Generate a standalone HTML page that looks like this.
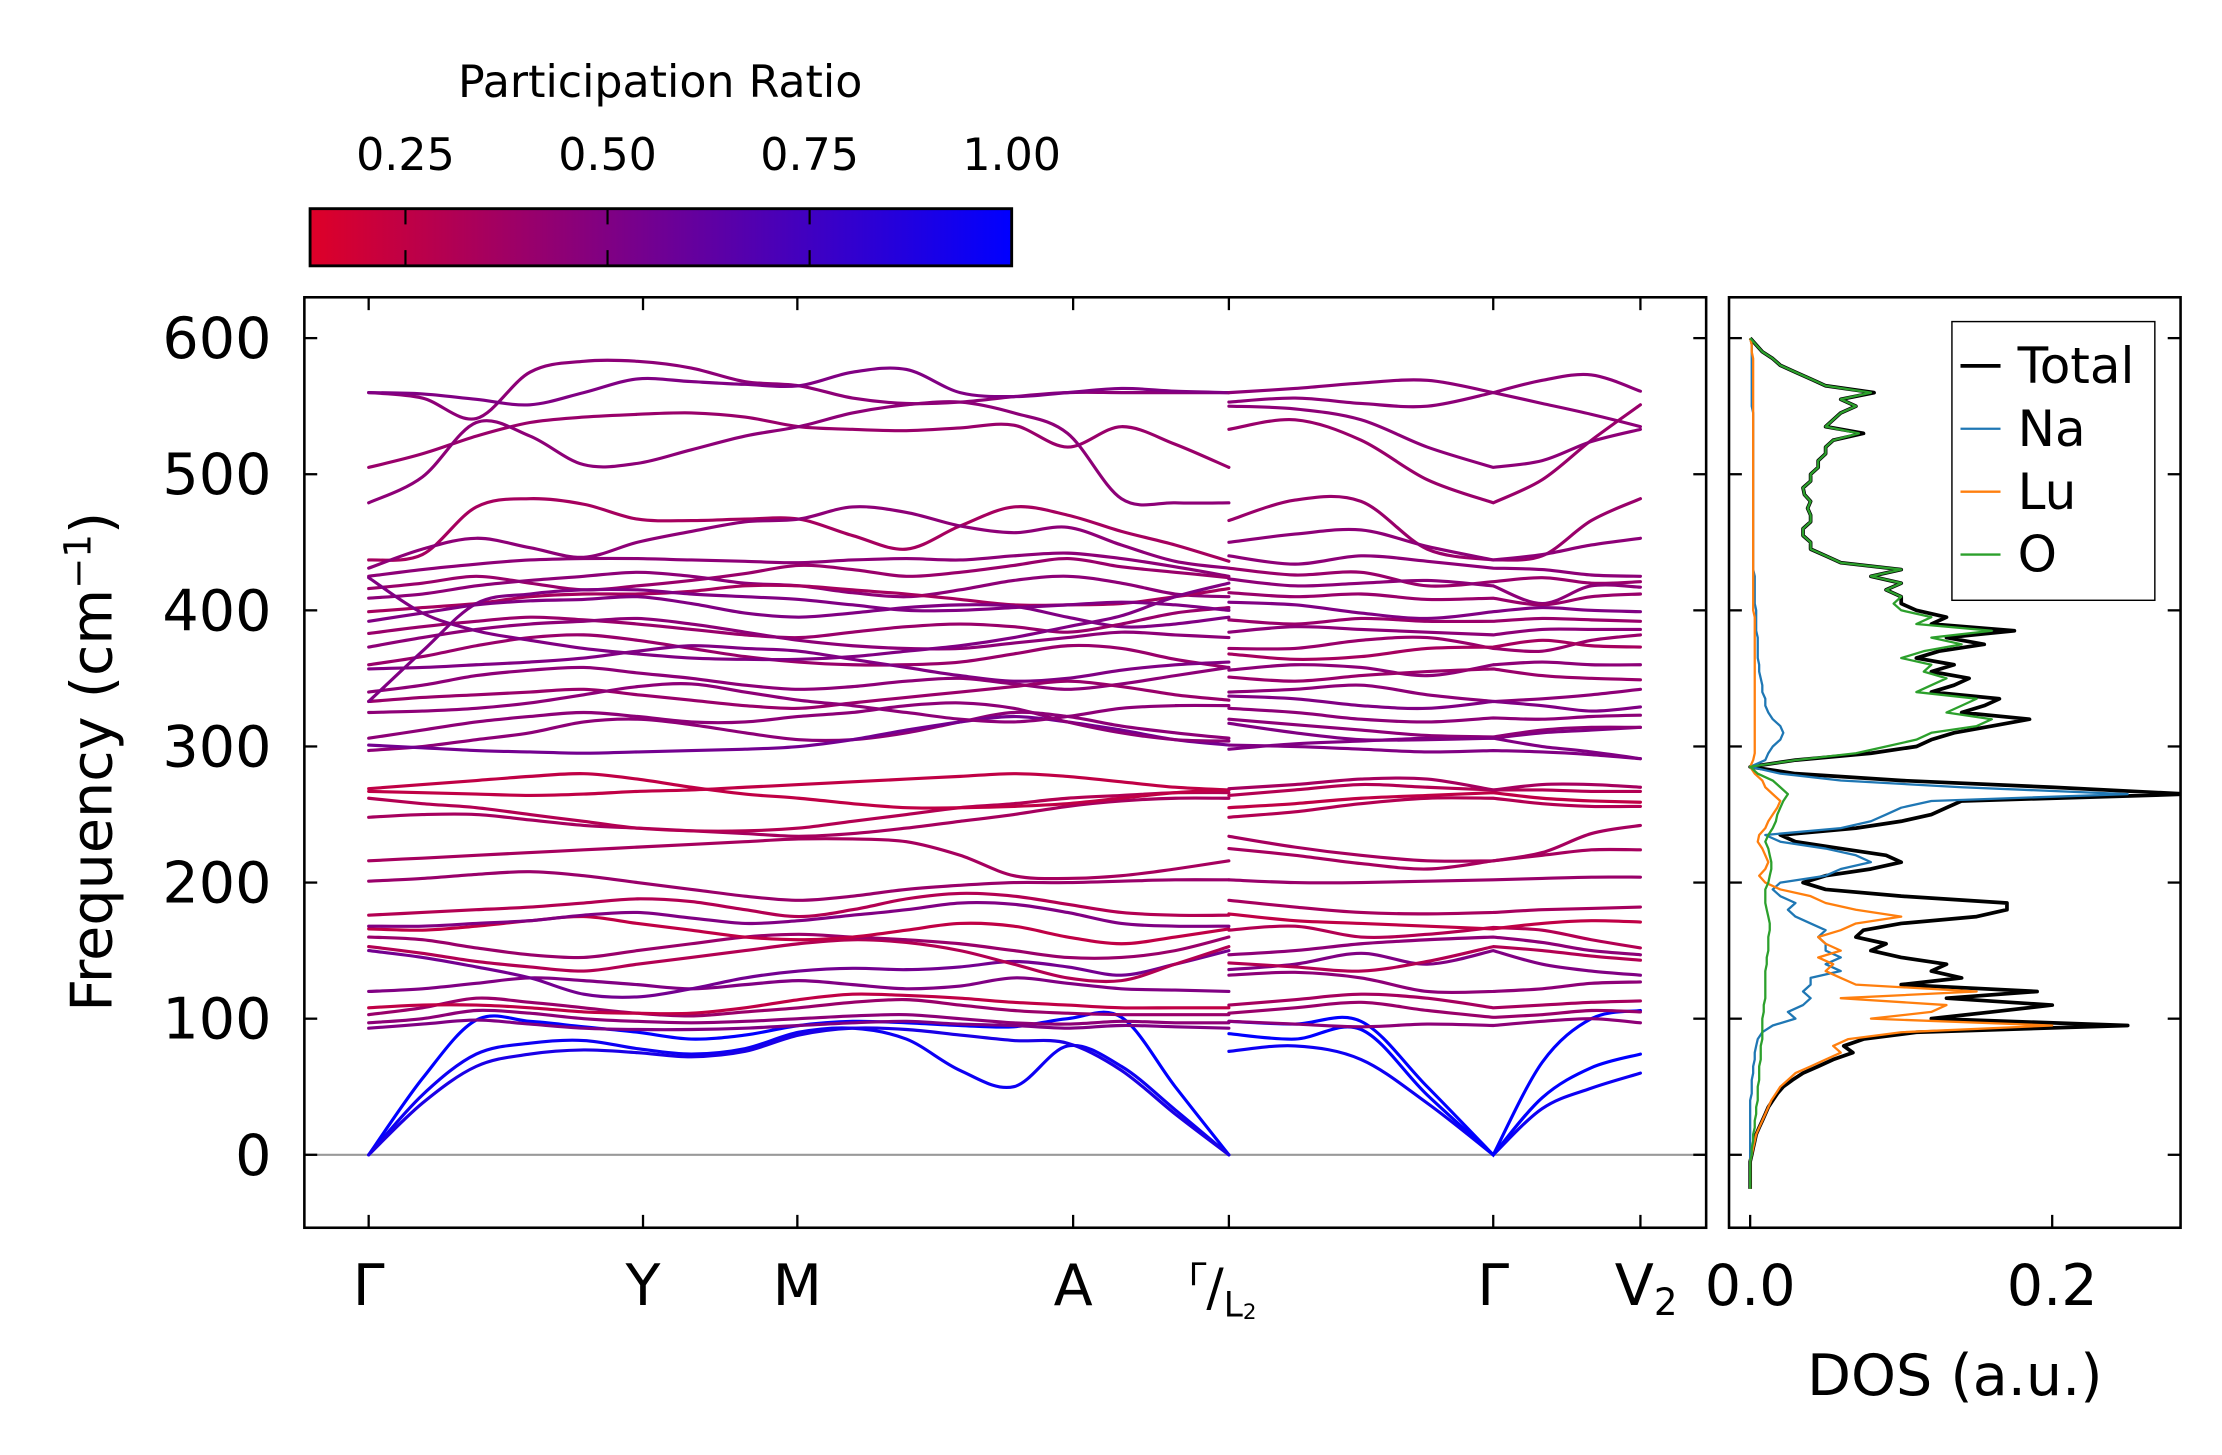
<!DOCTYPE html>
<html><head><meta charset="utf-8"><style>
html,body{margin:0;padding:0;background:#fff;}
svg{display:block;font-family:"DejaVu Sans","Liberation Sans",sans-serif;}
</style></head><body>
<svg id="chart" width="2222" height="1455" viewBox="0 0 1555 1018" preserveAspectRatio="none" xmlns="http://www.w3.org/2000/svg">
<defs>
<linearGradient id="cbgrad" x1="0" x2="1" y1="0" y2="0">
<stop offset="0" stop-color="rgb(222,0,40)"/><stop offset="1" stop-color="rgb(0,0,255)"/>
</linearGradient>
<clipPath id="mainclip"><rect x="213" y="208" width="981" height="651"/></clipPath>
<clipPath id="dosclip"><rect x="1210" y="208" width="316" height="651"/></clipPath>
</defs>
<g id="colorbar">
<text x="462" y="68" font-size="31" text-anchor="middle">Participation Ratio</text>
<rect x="217" y="146" width="491" height="40" fill="url(#cbgrad)" stroke="#000" stroke-width="2"/>
</g>
<g id="main">
<line x1="213" x2="1194" y1="808" y2="808" stroke="#999" stroke-width="1.5"/>
<g id="bands" clip-path="url(#mainclip)"></g>
<rect x="213" y="208" width="981" height="651" fill="none" stroke="#000" stroke-width="1.8"/>
<g id="mainticks"></g>
<text transform="translate(78,533) rotate(-90)" font-size="40" text-anchor="middle">Frequency (cm<tspan baseline-shift="super" font-size="26">−1</tspan>)</text>
</g>
<g id="dos">
<g id="dosCurves" clip-path="url(#dosclip)"></g>
<rect x="1210" y="208" width="316" height="651" fill="none" stroke="#000" stroke-width="1.8"/>
<g id="dosticks"></g>
<text x="1368" y="976" font-size="40" text-anchor="middle">DOS (a.u.)</text>
<g>
<rect x="1366" y="225" width="142" height="195" fill="#fff" stroke="#000" stroke-width="1"/>
<g id="legendEntries"></g>
</g>
</g>
</svg>
<script>
// ---------- data ----------
const cbTicks = [0.25, 0.50, 0.75, 1.00];
const cbTickLabels = ["0.25", "0.50", "0.75", "1.00"];
const cbRange = [0.132, 1.0];
const yTicks = [0, 100, 200, 300, 400, 500, 600];
const yLim = [-53.6, 630];
const kLim = [-45, 936];
const kHigh = [0, 192, 300, 493, 602, 787, 890];
const kLabels = ["Γ", "Y", "M", "A", "Γ/L2", "Γ", "V2"];
const kPath1 = [0,37.6,75.3,112.9,150.5,188.1,225.8,263.4,301,338.6,376.3,413.9,451.5,489.1,526.8,564.4,602];
const kPath2 = [602,648.25,694.5,740.75,787,821.3,855.7,890];
const bandsPath1 = [
[0,56,99,98,94,90,85,88,95,98,97,95,94,100,101,50,0],
[0,44,74,82,84,78,74,78,90,93,85,62,50,80,65,33,0],
[0,38,65,74,77,75,72,76,88,93,92,88,84,82,62,30,0],
[93,96,99,96,93,92,92,93,95,97,98,96,95,93,95,94,93],
[97,100,106,104,100,98,97,98,100,102,103,100,97,96,98,97,97],
[103,108,115,112,108,104,102,105,108,112,114,110,106,104,103,103,103],
[108,110,110,108,105,104,104,108,114,118,117,115,112,110,108,108,108],
[120,122,126,130,128,125,122,125,128,125,122,124,130,126,122,121,120],
[150,145,138,130,118,116,122,130,135,137,136,138,142,138,132,140,150],
[153,148,142,138,135,140,145,150,155,158,156,150,140,130,128,140,153],
[160,158,152,147,145,150,155,160,162,160,158,155,150,145,145,150,160],
[166,165,168,172,175,170,165,160,158,160,165,170,168,160,155,160,166],
[168,168,170,172,176,178,174,170,172,176,180,185,184,178,170,168,168],
[176,178,180,182,185,188,186,180,175,180,188,192,190,184,178,176,176],
[201,203,206,208,205,200,195,190,187,190,195,198,200,200,201,202,202],
[216,218,220,222,224,226,228,230,232,232,230,220,205,203,205,210,216],
[248,250,250,246,242,240,238,236,234,236,240,245,250,256,260,262,262],
[262,258,255,250,245,240,238,238,240,245,250,255,258,262,264,266,266],
[267,266,265,264,265,267,268,270,272,274,276,278,280,278,274,270,268],
[269,272,275,278,280,276,270,265,262,258,255,255,256,258,262,266,268],
[297,300,305,310,318,320,316,310,305,305,310,318,325,322,315,310,306],
[301,299,297,296,295,296,297,298,300,305,312,318,322,318,312,305,301],
[306,312,318,322,325,322,318,318,322,325,330,332,328,318,310,305,304],
[560,556,541,575,583,583,578,568,565,556,552,553,557,560,560,560,560],
[560,559,555,551,560,570,568,566,565,575,577,560,557,560,563,561,560],
[505,515,528,538,542,544,545,542,535,533,532,534,536,520,535,522,505],
[479,498,538,528,507,508,518,528,535,545,551,553,545,530,482,479,479],
[437,441,476,482,478,467,466,467,467,455,445,462,476,470,458,448,436],
[431,445,453,446,439,450,458,465,467,476,472,462,457,461,448,436,431],
[425,430,434,437,438,438,437,436,435,437,438,437,440,442,438,432,425],
[416,420,425,420,415,418,422,427,433,430,425,428,433,438,432,428,424],
[409,412,418,422,425,428,425,420,418,413,410,415,422,425,420,412,410],
[399,402,405,410,412,412,414,418,418,415,412,408,404,404,405,410,416],
[392,398,404,407,408,410,405,398,395,398,402,404,403,395,388,390,395],
[383,388,392,395,393,390,386,382,380,384,388,390,388,384,390,398,402],
[373,380,386,390,392,394,390,384,378,374,372,372,376,380,384,382,380],
[360,366,374,380,382,378,372,366,362,360,360,362,368,374,372,364,358],
[357,358,360,362,365,370,374,372,370,364,358,352,348,350,356,360,362],
[340,345,352,356,358,354,350,345,342,344,348,350,346,342,346,352,358],
[333,336,338,340,342,338,334,330,328,332,336,340,344,348,344,338,334],
[325,326,328,332,338,344,346,340,334,330,325,320,318,322,328,330,330],
[424,398,385,378,372,368,365,364,364,366,370,374,380,388,396,410,420],
[333,370,405,412,415,415,412,410,408,404,400,400,402,404,406,404,400]
];
const prPath1 = [1,.95,.9,.5,.45,.4,.25,.5,.55,.3,.4,.25,.5,.3,.4,.35,.35,.3,.25,.25,.45,.55,.45,
.45,.5,.4,.45,.35,.45,.45,.4,.45,.35,.5,.4,.45,.4,.5,.45,.4,.45,.5,.5];
const bandsPath2 = [
[76,80,70,38,0,34,49,60],
[89,85,92,44,0,42,64,74],
[98,96,98,50,0,68,100,106],
[98,96,94,96,95,98,100,97],
[104,108,112,106,101,103,106,105],
[110,114,118,115,108,110,112,113],
[132,134,130,120,120,122,126,127],
[136,140,148,140,150,140,135,132],
[141,138,135,142,153,150,146,143],
[147,150,155,158,160,156,150,147],
[165,168,160,162,167,165,158,152],
[177,172,170,168,166,170,172,171],
[187,182,178,177,178,180,181,182],
[202,200,200,201,202,203,204,204],
[225,220,214,210,216,220,224,224],
[234,226,220,216,216,222,236,242],
[248,252,258,262,262,258,256,256],
[255,258,262,264,266,262,260,259],
[264,268,272,270,268,268,267,267],
[269,272,276,276,268,272,272,270],
[301,300,298,296,297,296,294,291],
[298,302,304,306,306,310,312,314],
[560,563,567,569,560,569,573,561],
[553,556,552,550,560,552,544,535],
[533,540,525,496,479,496,525,551],
[550,548,540,520,505,510,524,533],
[466,481,480,445,437,440,466,482],
[450,456,459,447,437,441,448,453],
[440,434,440,436,431,430,426,425],
[431,426,428,418,421,424,420,421],
[423,418,420,422,418,405,418,417],
[413,410,412,408,409,404,410,412],
[406,404,398,394,399,402,400,399],
[393,390,394,392,392,394,393,392],
[384,388,386,384,382,386,386,386],
[372,372,378,380,372,370,378,382],
[368,364,366,372,373,378,374,373],
[356,360,358,352,360,362,360,360],
[351,348,352,355,357,352,350,349],
[340,342,345,338,333,335,338,342],
[337,335,330,328,333,330,326,329],
[328,325,320,318,321,320,322,323],
[320,316,312,308,307,312,314,314],
[317,310,305,305,306,300,296,291]
];
const prPath2 = [.95,1,1,.45,.4,.35,.45,.5,.3,.45,.3,.25,.35,.4,.35,.35,.3,.25,.3,.35,.5,.5,
.45,.45,.4,.45,.4,.45,.45,.4,.45,.4,.5,.4,.45,.4,.35,.45,.4,.45,.5,.45,.45,.5];

const dosFreqStart = -25, dosFreqStep = 5;
const dosTicks = [0.0, 0.2];
const dosTickLabels = ["0.0", "0.2"];
const dosLim = [-0.014, 0.285];
const dosTotal = [0,0,0,0,0,
.001,.002,.003,.004,.006,.008,.010,.012,.015,.018,
.022,.028,.035,.045,.055,.068,.062,.075,.11,.25,
.12,.16,.20,.13,.19,.10,.14,.12,.13,.10,
.08,.09,.07,.075,.10,.15,.17,.17,.10,.05,
.035,.05,.08,.10,.09,.06,.03,.02,.07,.10,
.12,.13,.14,.29,.20,.10,.03,.0,.03,.08,
.11,.12,.135,.16,.185,.14,.155,.165,.12,.135,
.145,.12,.135,.11,.125,.155,.13,.175,.12,.13,
.11,.10,.10,.09,.10,.08,.10,.06,.05,.04,
.04,.035,.035,.04,.04,.038,.04,.036,.035,.04,
.04,.045,.045,.05,.05,.055,.075,.05,.055,.06,
.07,.06,.082,.05,.04,.03,.02,.015,.008,.004,
0];
const dosNa = [0,0,0,0,0,
0,0,0,0,0,0,0,0,0,.001,
.001,.001,.002,.002,.003,.003,.004,.005,.008,.015,
.03,.025,.035,.04,.035,.04,.04,.06,.05,.06,
.05,.05,.045,.05,.04,.03,.025,.03,.02,.015,
.02,.05,.06,.08,.07,.05,.02,.01,.06,.08,
.09,.10,.12,.25,.14,.06,.02,.0,.01,.012,
.015,.02,.022,.02,.015,.012,.01,.01,.008,.008,
.007,.006,.006,.005,.005,.005,.005,.004,.004,.004,
.004,.003,.003,.003,.003,.003,.002,.002,.002,.002,
.002,.002,.002,.002,.002,.002,.002,.002,.002,.002,
.002,.002,.002,.002,.002,.002,.002,.002,.002,.002,
.001,.001,.001,.001,.001,.001,.001,.001,.001,.001,
0];
const dosLu = [0,0,0,0,0,
.001,.002,.003,.004,.006,.008,.01,.012,.014,.017,
.02,.025,.03,.04,.05,.06,.055,.065,.10,.20,
.08,.12,.13,.06,.15,.07,.06,.05,.055,.045,
.06,.05,.045,.06,.07,.10,.07,.05,.04,.02,
.01,.006,.01,.012,.01,.008,.005,.006,.01,.012,
.015,.018,.02,.015,.01,.008,.003,.0,.002,.003,
.003,.003,.003,.003,.003,.003,.003,.003,.003,.003,
.003,.003,.003,.003,.003,.003,.003,.003,.003,.003,
.002,.002,.002,.002,.002,.002,.002,.002,.002,.002,
.002,.002,.002,.002,.002,.002,.002,.002,.002,.002,
.002,.002,.002,.002,.002,.002,.002,.002,.002,.002,
.002,.002,.002,.002,.002,.002,.002,.002,.001,.001,
0];
const dosO = [0,0,0,0,0,
.001,.001,.002,.002,.003,.003,.004,.004,.005,.005,
.005,.006,.006,.006,.007,.007,.007,.008,.008,.008,
.008,.009,.009,.01,.01,.01,.01,.01,.011,.011,
.012,.012,.012,.013,.013,.012,.011,.01,.01,.01,
.012,.013,.014,.014,.013,.012,.01,.012,.015,.017,
.018,.02,.022,.025,.02,.015,.005,.0,.03,.07,
.09,.11,.12,.15,.16,.13,.14,.15,.11,.12,
.13,.115,.12,.10,.115,.14,.12,.16,.11,.12,
.10,.095,.10,.09,.10,.08,.10,.06,.05,.04,
.04,.035,.035,.04,.04,.038,.04,.036,.035,.04,
.04,.045,.045,.05,.05,.055,.072,.05,.055,.06,
.07,.06,.08,.05,.04,.03,.02,.015,.008,.004,
0];
const dosSeriesNames = ["Total","Na","Lu","O"];
const dosSeriesColors = ["#000000","#1f77b4","#ff7f0e","#2ca02c"];

// ---------- scales ----------
const NS = "http://www.w3.org/2000/svg";
const yS = f => 859 - (f - yLim[0]) / (yLim[1] - yLim[0]) * 651;
const kS = k => 213 + (k - kLim[0]) / (kLim[1] - kLim[0]) * 981;
const dS = d => 1210 + (d - dosLim[0]) / (dosLim[1] - dosLim[0]) * 316;
const cbS = v => 217 + (v - cbRange[0]) / (cbRange[1] - cbRange[0]) * 491;
function cmap(v){
  let t = (v - cbRange[0]) / (cbRange[1] - cbRange[0]);
  t = Math.max(0, Math.min(1, t));
  return "rgb(" + Math.round(222*(1-t)) + ",0," + Math.round(40 + 215*t) + ")";
}
function mk(tag, attrs, parent){
  const e = document.createElementNS(NS, tag);
  for (const a in attrs) e.setAttribute(a, attrs[a]);
  parent.appendChild(e);
  return e;
}
function crSeg(pts){
  let d = "";
  for (let i = 0; i < pts.length - 1; i++){
    const p0 = pts[i-1] || pts[i], p1 = pts[i], p2 = pts[i+1], p3 = pts[i+2] || pts[i+1];
    const c1x = p1[0] + (p2[0]-p0[0])/6, c1y = p1[1] + (p2[1]-p0[1])/6;
    const c2x = p2[0] - (p3[0]-p1[0])/6, c2y = p2[1] - (p3[1]-p1[1])/6;
    d += " C" + c1x.toFixed(1) + " " + c1y.toFixed(1) + " " + c2x.toFixed(1) + " " + c2y.toFixed(1) + " " + p2[0].toFixed(1) + " " + p2[1].toFixed(1);
  }
  return d;
}
function crPath(pts, breakIdx){
  let d = "M" + pts[0][0].toFixed(1) + " " + pts[0][1].toFixed(1);
  if (breakIdx > 0){
    d += crSeg(pts.slice(0, breakIdx + 1));
    d += crSeg(pts.slice(breakIdx));
  } else {
    d += crSeg(pts);
  }
  return d;
}
function linPath(pts){
  return "M" + pts.map(p => p[0].toFixed(1) + " " + p[1].toFixed(1)).join(" L");
}

// ---------- colorbar ticks ----------
const cb = document.getElementById("colorbar");
cbTicks.forEach((v, i) => {
  const x = cbS(v);
  if (i < cbTicks.length - 1){
    const t1 = mk("line", {x1:x, x2:x, y1:146, y2:157, stroke:"#000", "stroke-width":1.5}, cb);
    
    
    const t2 = mk("line", {x1:x, x2:x, y1:175, y2:186, stroke:"#000", "stroke-width":1.5}, cb);
    
    
  }
  const lb = mk("text", {x:x, y:119, "font-size":31, "text-anchor":"middle"}, cb);
  lb.textContent = cbTickLabels[i];
  
  
});

// ---------- bands ----------
const bandsG = document.getElementById("bands");
function drawBands(bands, kArr, prs, breakIdx){
  bands.forEach((b, bi) => {
    const pts = b.map((f, i) => [kS(kArr[i]), yS(f)]);
    const p = mk("path", {d: crPath(pts, breakIdx), fill:"none", stroke: cmap(prs[bi]), "stroke-width":2.2, "stroke-linecap":"round"}, bandsG);
    
    
  });
}
drawBands(bandsPath1, kPath1, prPath1, 0);
drawBands(bandsPath2, kPath2, prPath2, 4);

// ---------- main ticks ----------
const mt = document.getElementById("mainticks");
yTicks.forEach(v => {
  const y = yS(v);
  const a = mk("line", {x1:213, x2:222, y1:y, y2:y, stroke:"#000", "stroke-width":1.6}, mt);
  
  
  const b = mk("line", {x1:1185, x2:1194, y1:y, y2:y, stroke:"#000", "stroke-width":1.6}, mt);
  
  
  const t = mk("text", {x:190, y:y+14, "font-size":40, "text-anchor":"end"}, mt);
  t.textContent = String(v);
  
  
});
kHigh.forEach((k, i) => {
  const x = kS(k);
  const a = mk("line", {x1:x, x2:x, y1:850, y2:859, stroke:"#000", "stroke-width":1.6}, mt);
  
  
  const b = mk("line", {x1:x, x2:x, y1:208, y2:217, stroke:"#000", "stroke-width":1.6}, mt);
  
  
  const lab = kLabels[i];
  let t;
  if (lab === "Γ/L2"){
    t = mk("text", {x:x-28, y:913, "font-size":40}, mt);
    t.innerHTML = '<tspan font-size="22" dy="-14">Γ</tspan><tspan font-size="36" dy="14">/</tspan><tspan font-size="24" dy="8">L</tspan><tspan font-size="15" dy="2">2</tspan>';
  } else if (lab === "V2"){
    t = mk("text", {x:x+4, y:913, "font-size":40, "text-anchor":"middle"}, mt);
    t.innerHTML = 'V<tspan font-size="26" dy="7">2</tspan>';
  } else {
    t = mk("text", {x:x, y:913, "font-size":40, "text-anchor":"middle"}, mt);
    t.textContent = lab;
  }
  
  
});

// ---------- DOS ----------
const dg = document.getElementById("dosCurves");
const dosData = [dosTotal, dosNa, dosLu, dosO];
[0, 1, 2, 3].forEach(si => {
  const arr = dosData[si];
  const pts = arr.map((d, i) => [dS(d), yS(dosFreqStart + i*dosFreqStep)]);
  const p = mk("path", {d: linPath(pts), fill:"none", stroke: dosSeriesColors[si], "stroke-width": si === 0 ? 2.6 : 1.6, "stroke-linejoin":"round"}, dg);
  
  
});
const dt = document.getElementById("dosticks");
yTicks.forEach(v => {
  const y = yS(v);
  const a = mk("line", {x1:1210, x2:1219, y1:y, y2:y, stroke:"#000", "stroke-width":1.6}, dt);
  
  
  const b = mk("line", {x1:1517, x2:1526, y1:y, y2:y, stroke:"#000", "stroke-width":1.6}, dt);
  
  
});
dosTicks.forEach((v, i) => {
  const x = dS(v);
  const a = mk("line", {x1:x, x2:x, y1:850, y2:859, stroke:"#000", "stroke-width":1.6}, dt);
  
  
  const t = mk("text", {x:x, y:913, "font-size":40, "text-anchor":"middle"}, dt);
  t.textContent = dosTickLabels[i];
  
  
});
const lg = document.getElementById("legendEntries");
dosSeriesNames.forEach((n, i) => {
  const y = 256 + i*44;
  const l = mk("line", {x1:1372, x2:1400, y1:y, y2:y, stroke: dosSeriesColors[i], "stroke-width": i === 0 ? 2.6 : 1.6}, lg);
  
  
  const t = mk("text", {x:1412, y:y+12, "font-size":35}, lg);
  t.textContent = n;
  
  
});
</script>
</body></html>
